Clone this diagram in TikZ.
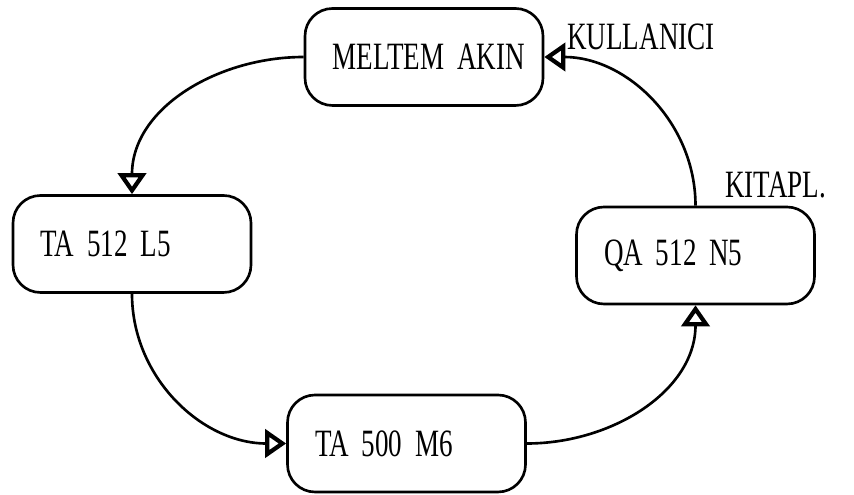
\documentclass[tikz,border=0pt]{standalone}
\usepackage{fontspec}
\setmainfont[FakeStretch=0.7, WordSpace=0.8]{Liberation Serif}
\usetikzlibrary{positioning,arrows.meta}

\tikzset{
  kasten/.style={draw, line width=1.5pt, rounded corners=0.55cm,
    minimum height=1.94cm, text width=3.66cm, align=left, inner xsep=0.55cm,
    font=\fontsize{22}{26}\selectfont},
  pfeil/.style={line width=1.5pt,
    -{Triangle[open, length=0.42cm, width=0.56cm, line width=2.4pt]}},
  marke/.style={anchor=west, inner sep=0pt, font=\fontsize{22}{26}\selectfont}
}

\begin{document}
\begin{tikzpicture}
\useasboundingbox (0,0) rectangle (17.08,9.9);
% Kaesten
\node[kasten] (meltem) at (8.48,8.76) {\mbox{MELTEM AKIN}};
\node[kasten] (ta512) at (2.64,5.02) {TA 512 L5};
\node[kasten] (ta500) at (8.13,1.03) {TA 500 M6};
\node[kasten] (qa512) at (13.91,4.79) {QA 512 N5};
% Beschriftungen
\node[marke] (kullanici) at (11.34,9.16) {KULLANICI};
\node[marke] (kitapl) at (14.5,6.2) {KITAPL.};
% links
\draw[pfeil] (meltem.west) to[out=180,in=90] (ta512.north);
% unten
\draw[pfeil] (ta512.south) to[out=-90,in=180] (ta500.west);
\draw[pfeil] (ta500.east) to[out=0,in=-90] (qa512.south);
% rechts
\draw[pfeil] (qa512.north) to[out=90,in=0] (meltem.east);
\end{tikzpicture}
\end{document}
